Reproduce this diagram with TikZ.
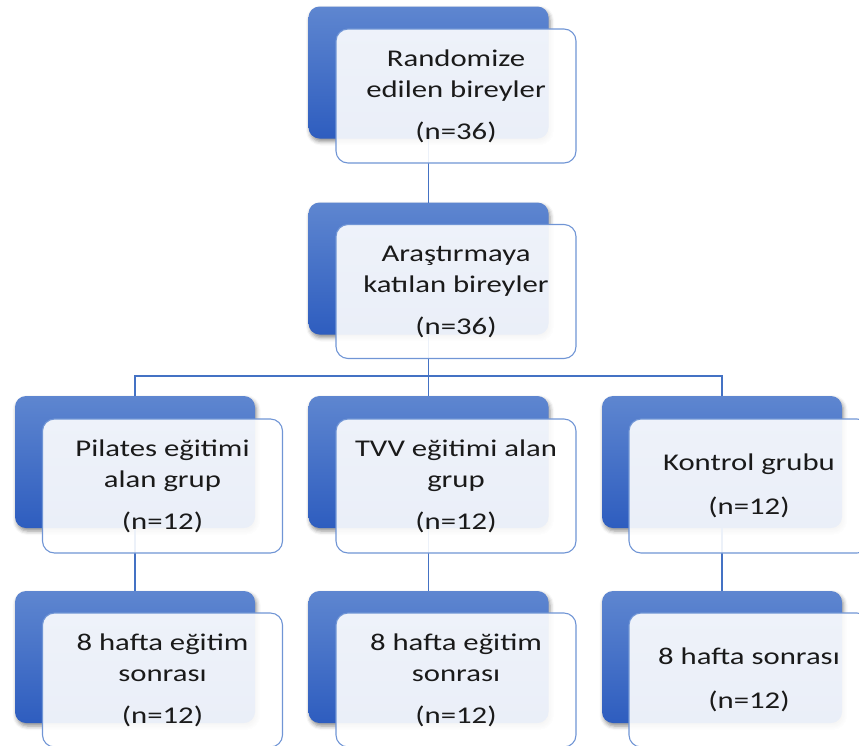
\documentclass[tikz,border=0pt]{standalone}
\usepackage{fontspec}
\setmainfont{Carlito}[FakeStretch=1.28]
\usetikzlibrary{shadows.blur,calc}
\definecolor{btop}{RGB}{94,134,208}
\definecolor{bbot}{RGB}{46,93,191}
\definecolor{wline}{RGB}{112,149,213}
\definecolor{connc}{RGB}{68,114,196}
\definecolor{txt}{RGB}{26,26,26}
\tikzset{
 backbox/.style={minimum width=240pt,minimum height=132pt,inner sep=0pt,outer sep=0pt,
   rounded corners=11pt,top color=btop,bottom color=bbot,draw=none,
   blur shadow={shadow xshift=1.5pt,shadow yshift=-3pt,shadow blur radius=4pt,shadow opacity=45}},
 frontbox/.style={minimum width=240pt,minimum height=134pt,inner sep=0pt,outer sep=0pt,
   rounded corners=12pt,draw=wline,line width=1.1pt,fill=white,fill opacity=0.9,text opacity=1,
   align=center,font=\fontsize{24}{31}\selectfont,text=txt},
 connline/.style={draw=connc,line width=1.4pt}
}
\begin{document}
\begin{tikzpicture}[x=1pt,y=-1pt]
\useasboundingbox (0,0) rectangle (859,745);
% back boxes
\node[backbox] (b1) at (428.5,72.5) {};
\node[backbox] (b2) at (428.5,268.5) {};
\node[backbox] (b3) at (135,462) {};
\node[backbox] (b4) at (428.5,462) {};
\node[backbox] (b5) at (722,462) {};
\node[backbox] (b6) at (135,657) {};
\node[backbox] (b7) at (428.5,657) {};
\node[backbox] (b8) at (722,657) {};
% connectors
\coordinate (bus) at (428.5,376);
\draw[connline] (b1.south) -- (b2.north);
\draw[connline] (b2.south) -- (bus);
\draw[connline] (b3.north) |- (bus) -| (b5.north);
\draw[connline] (bus) -- (b4.north);
\draw[connline] (b3.south) -- (b6.north);
\draw[connline] (b4.south) -- (b7.north);
\draw[connline] (b5.south) -- (b8.north);
% front boxes
\node[frontbox] (w1) at (456,96) {Randomize\\edilen bireyler\\[11pt](n=36)};
\node[frontbox] (w2) at (456,291.5) {Araştırmaya\\katılan bireyler\\[11pt](n=36)};
\node[frontbox] (w3) at (162.5,486) {Pilates eğitimi\\alan grup\\[11pt](n=12)};
\node[frontbox] (w4) at (456,486) {TVV eğitimi alan\\grup\\[11pt](n=12)};
\node[frontbox] (w5) at (749,486) {Kontrol grubu\\[13pt](n=12)};
\node[frontbox] (w6) at (162.5,680) {8 hafta eğitim\\sonrası\\[11pt](n=12)};
\node[frontbox] (w7) at (456,680) {8 hafta eğitim\\sonrası\\[11pt](n=12)};
\node[frontbox] (w8) at (749,680) {8 hafta sonrası\\[13pt](n=12)};
\end{tikzpicture}
\end{document}
